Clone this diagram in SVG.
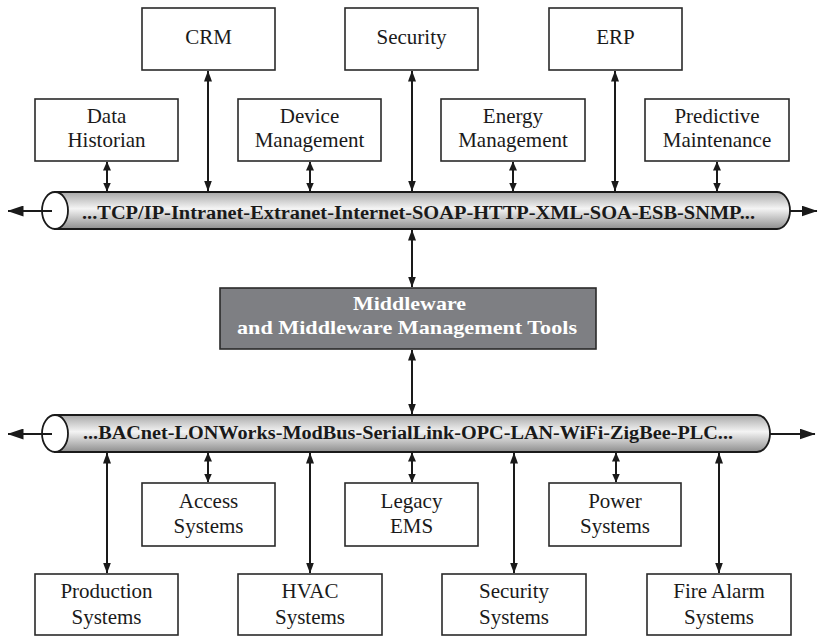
<svg xmlns="http://www.w3.org/2000/svg" width="818" height="636" viewBox="0 0 818 636">
<style>
.box{fill:#fff;stroke:#2a2a2a;stroke-width:1.6}
.t{font-family:"Liberation Serif","Times New Roman",serif;font-size:21px;fill:#1a1a1a;text-anchor:middle}
.pt{font-family:"Liberation Serif","Times New Roman",serif;font-size:18px;font-weight:bold;fill:#1a1a1a}
.mt{font-family:"Liberation Serif","Times New Roman",serif;font-size:19px;font-weight:bold;fill:#fff;text-anchor:middle}
.c{stroke:#1a1a1a;stroke-width:2;fill:none}
.pipe{fill:url(#pg);stroke:#1a1a1a;stroke-width:1.8}
.end{fill:#fff;stroke:#1a1a1a;stroke-width:1.8}
</style>
<defs>
<linearGradient id="pg" x1="0" y1="0" x2="0" y2="1">
<stop offset="0" stop-color="#a8a8a8"/>
<stop offset="0.45" stop-color="#f4f4f4"/>
<stop offset="1" stop-color="#8e8e8e"/>
</linearGradient>
<marker id="a" markerUnits="userSpaceOnUse" markerWidth="11" markerHeight="8" refX="10.5" refY="4" orient="auto-start-reverse" viewBox="0 0 11 8">
<path d="M0,0 L11,4 L0,8 z" fill="#1a1a1a"/>
</marker>
<marker id="s" markerUnits="userSpaceOnUse" markerWidth="9" markerHeight="8" refX="8.5" refY="4" orient="auto-start-reverse" viewBox="0 0 9 8">
<path d="M0,0 L9,4 L0,8 z" fill="#1a1a1a"/>
</marker>
<marker id="b" markerUnits="userSpaceOnUse" markerWidth="16" markerHeight="11" refX="15.5" refY="5.5" orient="auto-start-reverse" viewBox="0 0 16 11">
<path d="M0,0 L16,5.5 L0,11 z" fill="#1a1a1a"/>
</marker>
</defs>

<g id="connectors">
<line class="c" x1="107" y1="162" x2="107" y2="191" marker-start="url(#s)" marker-end="url(#s)"/>
<line class="c" x1="208" y1="71" x2="208" y2="191" marker-start="url(#a)" marker-end="url(#a)"/>
<line class="c" x1="310" y1="162" x2="310" y2="191" marker-start="url(#s)" marker-end="url(#s)"/>
<line class="c" x1="412" y1="71" x2="412" y2="191" marker-start="url(#a)" marker-end="url(#a)"/>
<line class="c" x1="513" y1="162" x2="513" y2="191" marker-start="url(#s)" marker-end="url(#s)"/>
<line class="c" x1="615" y1="71" x2="615" y2="191" marker-start="url(#a)" marker-end="url(#a)"/>
<line class="c" x1="717" y1="162" x2="717" y2="191" marker-start="url(#s)" marker-end="url(#s)"/>
<line class="c" x1="412" y1="230" x2="412" y2="287" marker-start="url(#a)" marker-end="url(#a)"/>
<line class="c" x1="412" y1="350" x2="412" y2="414" marker-start="url(#a)" marker-end="url(#a)"/>
<line class="c" x1="107" y1="453" x2="107" y2="573" marker-start="url(#a)" marker-end="url(#a)"/>
<line class="c" x1="208" y1="453" x2="208" y2="482" marker-start="url(#s)" marker-end="url(#s)"/>
<line class="c" x1="310" y1="453" x2="310" y2="573" marker-start="url(#a)" marker-end="url(#a)"/>
<line class="c" x1="412" y1="453" x2="412" y2="482" marker-start="url(#s)" marker-end="url(#s)"/>
<line class="c" x1="514" y1="453" x2="514" y2="573" marker-start="url(#a)" marker-end="url(#a)"/>
<line class="c" x1="616" y1="453" x2="616" y2="482" marker-start="url(#s)" marker-end="url(#s)"/>
<line class="c" x1="719" y1="453" x2="719" y2="573" marker-start="url(#a)" marker-end="url(#a)"/>
<line class="c" x1="790" y1="211" x2="817" y2="211" marker-end="url(#b)"/>
<line class="c" x1="770" y1="434" x2="815" y2="434" marker-end="url(#b)"/>
</g>

<g id="top-bus">
<path class="pipe" d="M55,192 L777,192 A13,18.5 0 0 1 777,229 L55,229 Z"/>
<ellipse class="end" cx="55" cy="210.5" rx="13" ry="18.5"/>
<line class="c" x1="52" y1="211" x2="8" y2="211" marker-end="url(#b)"/>
<text class="pt" x="82" y="219" textLength="673" lengthAdjust="spacingAndGlyphs">...TCP/IP-Intranet-Extranet-Internet-SOAP-HTTP-XML-SOA-ESB-SNMP...</text>
</g>

<g id="bottom-bus">
<path class="pipe" d="M55,415 L757,415 A13,18.5 0 0 1 757,452 L55,452 Z"/>
<ellipse class="end" cx="55" cy="433.5" rx="13" ry="18.5"/>
<line class="c" x1="52" y1="434" x2="8" y2="434" marker-end="url(#b)"/>
<text class="pt" x="83" y="439" textLength="650" lengthAdjust="spacingAndGlyphs">...BACnet-LONWorks-ModBus-SerialLink-OPC-LAN-WiFi-ZigBee-PLC...</text>
</g>

<g id="crm"><rect class="box" x="142" y="8" width="133" height="62"/><text class="t" x="208.5" y="44">CRM</text></g>
<g id="security"><rect class="box" x="345" y="8" width="133" height="62"/><text class="t" x="411.5" y="44">Security</text></g>
<g id="erp"><rect class="box" x="549" y="8" width="133" height="62"/><text class="t" x="615.5" y="44">ERP</text></g>

<g id="data-historian"><rect class="box" x="35" y="99" width="143" height="62"/><text class="t" x="106.5" y="123">Data</text><text class="t" x="106.5" y="147">Historian</text></g>
<g id="device-management"><rect class="box" x="238" y="99" width="143" height="62"/><text class="t" x="309.5" y="123">Device</text><text class="t" x="309.5" y="147">Management</text></g>
<g id="energy-management"><rect class="box" x="441" y="99" width="144" height="62"/><text class="t" x="513" y="123">Energy</text><text class="t" x="513" y="147">Management</text></g>
<g id="predictive-maintenance"><rect class="box" x="645" y="99" width="144" height="62"/><text class="t" x="717" y="123">Predictive</text><text class="t" x="717" y="147">Maintenance</text></g>

<g id="middleware"><rect x="220" y="288" width="376" height="61" fill="#7e7f83" stroke="#2a2a2a" stroke-width="1.6"/><text class="mt" x="409.5" y="310" textLength="113" lengthAdjust="spacingAndGlyphs">Middleware</text><text class="mt" x="407" y="334" textLength="340" lengthAdjust="spacingAndGlyphs">and Middleware Management Tools</text></g>

<g id="access-systems"><rect class="box" x="142" y="483" width="133" height="63"/><text class="t" x="208.5" y="508">Access</text><text class="t" x="208.5" y="533">Systems</text></g>
<g id="legacy-ems"><rect class="box" x="345" y="483" width="133" height="63"/><text class="t" x="411.5" y="508">Legacy</text><text class="t" x="411.5" y="533">EMS</text></g>
<g id="power-systems"><rect class="box" x="549" y="483" width="132" height="63"/><text class="t" x="615" y="508">Power</text><text class="t" x="615" y="533">Systems</text></g>

<g id="production-systems"><rect class="box" x="35" y="574" width="143" height="61"/><text class="t" x="106.5" y="598">Production</text><text class="t" x="106.5" y="624">Systems</text></g>
<g id="hvac-systems"><rect class="box" x="238" y="574" width="144" height="61"/><text class="t" x="310" y="598">HVAC</text><text class="t" x="310" y="624">Systems</text></g>
<g id="security-systems"><rect class="box" x="442" y="574" width="144" height="61"/><text class="t" x="514" y="598">Security</text><text class="t" x="514" y="624">Systems</text></g>
<g id="fire-alarm-systems"><rect class="box" x="647" y="574" width="144" height="61"/><text class="t" x="719" y="598">Fire Alarm</text><text class="t" x="719" y="624">Systems</text></g>
</svg>
